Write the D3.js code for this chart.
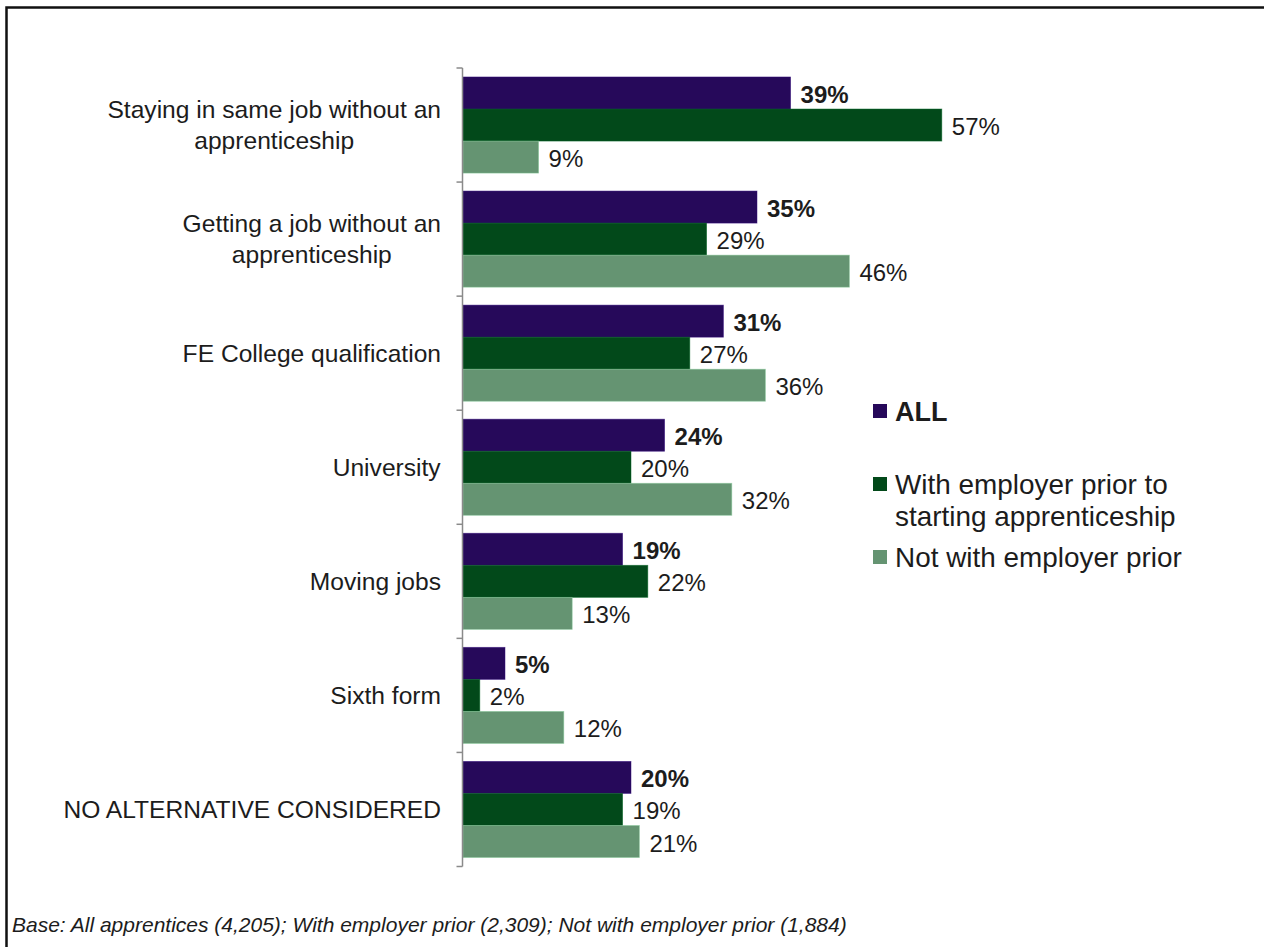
<!DOCTYPE html>
<html>
<head>
<meta charset="utf-8">
<script src="https://cdn.jsdelivr.net/npm/d3@7/dist/d3.min.js"></script>
<style>
  html, body { margin: 0; padding: 0; background: #fff; }
  svg { display: block; font-family: "Liberation Sans", Arial, sans-serif; }
</style>
</head>
<body>
<svg id="chart" width="1264" height="947"></svg>
<script>
// Alternatives considered to an apprenticeship, by group (%)
const categories = [
  "Staying in same job without an\napprenticeship",
  "Getting a job without an\napprenticeship",
  "FE College qualification",
  "University",
  "Moving jobs",
  "Sixth form",
  "NO ALTERNATIVE CONSIDERED"
];
const seriesNames = [
  "ALL",
  "With employer prior to\nstarting apprenticeship",
  "Not with employer prior"
];
const allValues      = [39, 35, 31, 24, 19, 5, 20];
const withEmployer   = [57, 29, 27, 20, 22, 2, 19];
const notWithEmployer = [9, 46, 36, 32, 13, 12, 21];
const seriesColors = ["#26095a", "#02491a", "#659472"];
const footnote = "Base: All apprentices (4,205); With employer prior (2,309); Not with employer prior (1,884)";

const series = [allValues, withEmployer, notWithEmployer];
const textColor = "#1c1c1c";

const svg = d3.select("#chart");

// outer frame (runs off the right and bottom edges)
svg.append("rect")
  .attr("x", 6.5).attr("y", 7.5)
  .attr("width", 1400).attr("height", 1100)
  .attr("fill", "none").attr("stroke", "#111").attr("stroke-width", 2.5);

const plotTop = 68, plotBottom = 866.5, x0 = 463;

const y = d3.scaleBand()
  .domain(d3.range(categories.length))
  .range([plotTop, plotBottom])
  .paddingInner(0)
  .paddingOuter(0);

const inner = d3.scaleBand()
  .domain(d3.range(series.length))
  .range([0, y.bandwidth()])
  .paddingOuter(0.28)
  .paddingInner(0);

const x = d3.scaleLinear().domain([0, 100]).range([x0, x0 + 840]);

// bars
const groups = svg.append("g").selectAll("g")
  .data(categories)
  .join("g")
  .attr("transform", (d, i) => `translate(0,${y(i)})`);

groups.each(function(cat, ci) {
  const g = d3.select(this);
  series.forEach((vals, si) => {
    const v = vals[ci];
    g.append("rect")
      .attr("x", x(0))
      .attr("y", inner(si))
      .attr("width", x(v) - x(0))
      .attr("height", inner.bandwidth())
      .attr("fill", seriesColors[si])
      .attr("stroke", d3.color(seriesColors[si]).brighter(0.9))
      .attr("stroke-width", 0.8)
      .attr("stroke-opacity", 0.6);
    g.append("text")
      .attr("x", x(v) + 10)
      .attr("y", inner(si) + inner.bandwidth() / 2 + 10)
      .attr("font-size", 24)
      .attr("font-weight", si === 0 ? "bold" : "normal")
      .attr("fill", textColor)
      .text(v + "%");
  });
});

// category axis
const axis = d3.axisLeft(y).tickSize(0).tickFormat(() => "");
const axisG = svg.append("g").attr("transform", `translate(${x0 - 0.5},0)`).call(axis);
axisG.select(".domain").attr("stroke", "#8a8a8a").attr("stroke-width", 1.5)
  .attr("d", `M0,${plotTop}V${plotBottom}`);
// boundary ticks between categories
const bounds = d3.range(categories.length + 1).map(i => plotTop + i * y.step());
axisG.selectAll(".bound").data(bounds).join("line")
  .attr("class", "bound")
  .attr("x1", -6).attr("x2", 0)
  .attr("y1", d => d).attr("y2", d => d)
  .attr("stroke", "#8a8a8a").attr("stroke-width", 1.5);

// category labels (multi-line labels centred as a block, right edge on the axis)
const lineH = 31;
categories.forEach((cat, i) => {
  const lines = cat.split("\n");
  const cy = y(i) + y.bandwidth() / 2;
  const t = svg.append("text")
    .attr("font-size", 24.6)
    .attr("fill", textColor)
    .attr("text-anchor", "middle");
  lines.forEach((ln, k) => {
    t.append("tspan")
      .attr("x", 0)
      .attr("y", cy + 8.5 + (k - (lines.length - 1) / 2) * lineH)
      .text(ln);
  });
  const w = t.node().getBBox().width;
  t.attr("transform", `translate(${441 - w / 2},0)`);
});

// legend
const legend = svg.append("g").attr("transform", "translate(873,0)");
seriesNames.forEach((name, i) => {
  const cy = 411 + i * 73;
  legend.append("rect")
    .attr("x", 0).attr("y", cy - 7)
    .attr("width", 14).attr("height", 14)
    .attr("fill", seriesColors[i]);
  const t = legend.append("text")
    .attr("font-size", i === 0 ? 27 : 27.9)
    .attr("font-weight", i === 0 ? "bold" : "normal")
    .attr("fill", textColor);
  name.split("\n").forEach((ln, k) => {
    t.append("tspan")
      .attr("x", 22)
      .attr("y", cy + 10 + k * 32)
      .text(ln);
  });
});

// footnote
svg.append("text")
  .attr("x", 12).attr("y", 932)
  .attr("font-size", 21)
  .attr("font-style", "italic")
  .attr("fill", textColor)
  .text(footnote);
</script>
</body>
</html>
